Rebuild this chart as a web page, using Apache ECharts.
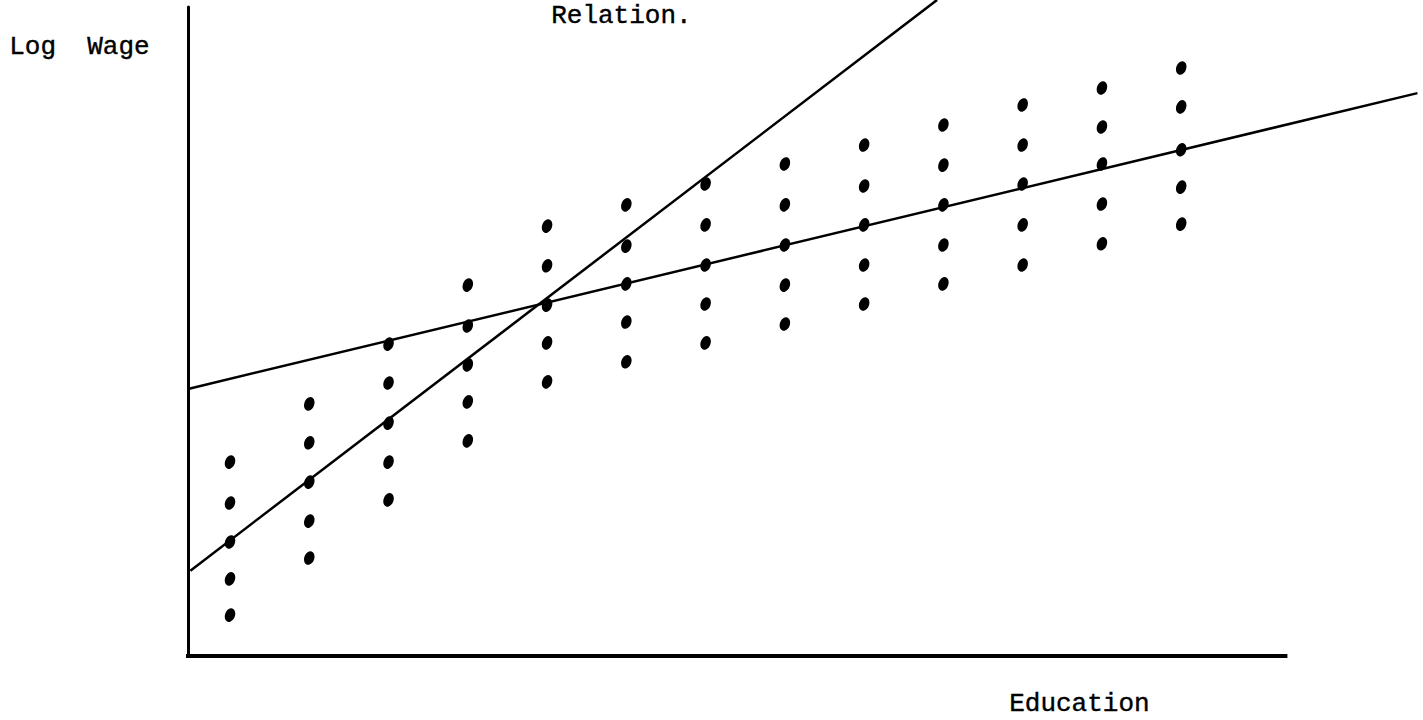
<!DOCTYPE html>
<html>
<head>
<meta charset="utf-8">
<script src="https://cdn.jsdelivr.net/npm/echarts@6/dist/echarts.min.js"></script>
<style>
html,body{margin:0;padding:0;background:#fff;}
#c{width:1423px;height:720px;}
</style>
</head>
<body>
<div id="c"></div>
<script>
// Education columns (1..13)
const educationLevels = [1,2,3,4,5,6,7,8,9,10,11,12,13];
// Log wage values per column, from top dot to bottom dot
const dotRow1 = [4.93, 6.41, 7.93, 9.43, 10.93, 11.47, 12.00, 12.51, 12.99, 13.50, 14.01, 14.44, 14.95];
const dotRow2 = [3.89, 5.42, 6.94, 8.39, 9.92, 10.42, 10.96, 11.47, 11.95, 12.48, 12.99, 13.45, 13.96];
const dotRow3 = [2.90, 4.42, 5.92, 7.40, 8.92, 9.46, 9.94, 10.45, 10.96, 11.47, 12.00, 12.51, 12.87];
const dotRow4 = [1.96, 3.43, 4.93, 6.46, 7.96, 8.49, 8.95, 9.43, 9.94, 10.45, 10.96, 11.49, 11.92];
const dotRow5 = [1.04, 2.49, 3.97, 5.47, 6.97, 7.48, 7.96, 8.44, 8.95, 9.46, 9.94, 10.48, 10.98];
// Two fitted lines (endpoints)
const steepLine = [[0.5, 2.17], [9.92, 16.68]];
const flatLine = [[0.47, 6.79], [15.98, 14.31]];
// Horizontal (education) axis extent, drawn shorter than the plot area
const educationAxis = [[0.41, 0], [14.34, 0]];
// Text labels
const yLabel = 'Log  Wage';
const xLabel = 'Education';
const titleText = 'Relation.';

const points = [];
[dotRow1, dotRow2, dotRow3, dotRow4, dotRow5].forEach(row => {
  row.forEach((v, i) => points.push([educationLevels[i], v]));
});

const FONT = '26px "Liberation Mono", "DejaVu Sans Mono", monospace';
const chart = echarts.init(document.getElementById('c'), null, {renderer: 'svg'});
chart.setOption({
  backgroundColor: '#ffffff',
  animation: false,
  grid: {left: 188, right: 4, top: 7, bottom: 64},
  xAxis: {
    type: 'value', min: 0.47, max: 16.0,
    axisLine: {show: false},
    axisTick: {show: false}, axisLabel: {show: false}, splitLine: {show: false}
  },
  yAxis: {
    type: 'value', min: 0, max: 16.5,
    axisLine: {show: true, lineStyle: {color: '#000', width: 3}},
    axisTick: {show: false}, axisLabel: {show: false}, splitLine: {show: false}
  },
  graphic: [
    {type: 'text', left: 9, top: 34, style: {text: yLabel, font: FONT, fill: '#000', stroke: '#000', lineWidth: 0.4}},
    {type: 'text', left: 551, top: 3, style: {text: titleText, font: FONT, fill: '#000', stroke: '#000', lineWidth: 0.4}},
    {type: 'text', left: 1009, top: 691, style: {text: xLabel, font: FONT, fill: '#000', stroke: '#000', lineWidth: 0.4}}
  ],
  series: [
    {
      type: 'line', data: educationAxis, symbol: 'none', clip: false,
      lineStyle: {color: '#000', width: 4}, z: 1
    },
    {
      type: 'scatter', data: points, symbol: 'circle', symbolSize: [10, 14], symbolRotate: -20,
      itemStyle: {color: '#000', opacity: 1}, z: 3
    },
    {
      type: 'line', data: steepLine, symbol: 'none', clip: false,
      lineStyle: {color: '#000', width: 2.5}, z: 2
    },
    {
      type: 'line', data: flatLine, symbol: 'none', clip: false,
      lineStyle: {color: '#000', width: 2.5}, z: 2
    }
  ]
});
</script>
</body>
</html>
